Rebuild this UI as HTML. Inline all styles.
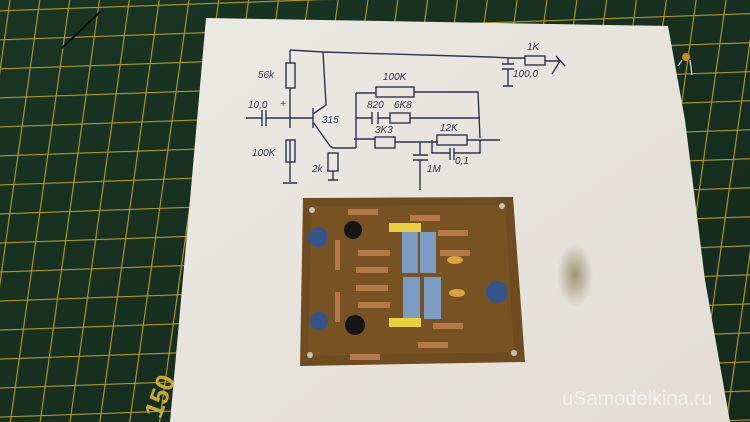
<!DOCTYPE html>
<html><head><meta charset="utf-8"><style>
html,body{margin:0;padding:0;width:750px;height:422px;overflow:hidden;background:#17301f}
svg{display:block}
</style></head><body>
<svg width="750" height="422" viewBox="0 0 750 422" xmlns="http://www.w3.org/2000/svg">
<defs>
<linearGradient id="mat" x1="0" y1="0" x2="1" y2="1">
<stop offset="0" stop-color="#1a3524"/><stop offset="1" stop-color="#142a1c"/></linearGradient>
<linearGradient id="pap" x1="0" y1="0" x2="1" y2="1">
<stop offset="0" stop-color="#ebe9e3"/><stop offset="1" stop-color="#e2ded6"/></linearGradient>
<pattern id="grid" width="30" height="29" patternUnits="userSpaceOnUse" patternTransform="translate(8,10) rotate(-2) skewX(-10)">
<path d="M0 0.5H30M0.5 0V29" stroke="#b49a2c" stroke-width="1.3" fill="none"/>
</pattern>
<radialGradient id="stain" cx="0.5" cy="0.5" r="0.5"><stop offset="0" stop-color="#8a7a55" stop-opacity="0.75"/><stop offset="1" stop-color="#8a7a55" stop-opacity="0"/></radialGradient>
</defs>
<rect width="750" height="422" fill="url(#mat)"/>
<rect width="750" height="422" fill="url(#grid)"/>
<path d="M62 48 L100 12" stroke="#0a0a0a" stroke-width="2"/>
<polygon points="206,18 668,26 685,120 705,280 730,422 170,422 190,200" fill="url(#pap)"/>
<ellipse cx="575" cy="275" rx="18" ry="32" fill="url(#stain)"/>
<circle cx="686" cy="57" r="4" fill="#d08a20"/>
<path d="M682 60 L678 66 M690 60 L692 75" stroke="#ddd" stroke-width="1.2"/>
<g stroke="#2e3350" stroke-width="1.4" fill="none">
<path d="M290 50 L323 52 L490 57 L510 58"/>
<path d="M290 50 V63 M290 88 V128 M290 140 V162 M290 162 V182 M283 183 H297"/>
<rect x="286" y="63" width="9" height="25"/>
<rect x="286" y="140" width="9" height="22"/>
<path d="M246 118 H262 M262 110 V126 M266 110 V126 M266 118 H313"/>
<path d="M313 108 V128 M313 114 L326 105 L323 52 M313 122 L330 146 L333 148 H356"/>
<rect x="328" y="153" width="10" height="18"/>
<path d="M333 171 V180 M328 180 H338"/>
<path d="M356 93 V148 M356 93 H376 M414 92 H478 L480 138 M356 118 H372 M372 112 V124 M378 112 V124 M378 118 H390 M410 118 H480 M354 139 H375 M395 142 H438 M467 140 H500"/>
<rect x="376" y="87" width="38" height="10"/>
<rect x="390" y="113" width="20" height="10"/>
<rect x="375" y="137" width="20" height="11"/>
<rect x="437" y="135" width="30" height="10"/>
<path d="M420 142 V155 M413 155 H428 M413 160 H428 M420 160 V190 M432 140 V153 H450 M450 148 V160 M454 148 V160 M454 153 H480 V140"/>
<path d="M508 58 V64 M502 64 H514 M502 69 H514 M508 69 V86 M503 86 H513 M510 58 H525 M545 61 H560 L552 74 M556 56 L565 66"/>
<rect x="525" y="56" width="20" height="9"/>
</g>
<g font-family="Liberation Sans, sans-serif" font-size="10" fill="#2e3350" font-style="italic">
<text x="258" y="78">56k</text><text x="248" y="108">10,0</text><text x="280" y="107">+</text>
<text x="252" y="156">100K</text><text x="322" y="123">315</text><text x="312" y="172">2k</text>
<text x="383" y="80">100K</text><text x="367" y="108">820</text><text x="394" y="108">6K8</text>
<text x="375" y="133">3K3</text><text x="440" y="131">12K</text><text x="427" y="172">1M</text>
<text x="455" y="164">0,1</text><text x="527" y="50">1K</text><text x="513" y="77">100,0</text>
</g>
<polygon points="303,198 513,197 525,362 300,366" fill="#6e4c1f"/>
<polygon points="312,206 505,205 514,352 308,356" fill="#7d5926" opacity="0.6"/>
<g fill="#7d9cc4"><rect x="402" y="232" width="16" height="41"/><rect x="420" y="232" width="16" height="41"/><rect x="403" y="277" width="17" height="42"/><rect x="424" y="277" width="17" height="42"/></g>
<g fill="#151515"><circle cx="353" cy="230" r="9"/><circle cx="355" cy="325" r="10"/></g>
<g fill="#35558a"><circle cx="318" cy="237" r="10"/><circle cx="319" cy="321" r="9"/><circle cx="497" cy="292" r="11"/></g>
<g fill="#e8d040"><rect x="389" y="223" width="32" height="9"/><rect x="389" y="318" width="32" height="9"/></g>
<g fill="#b57848"><rect x="348" y="209" width="30" height="6"/><rect x="410" y="215" width="30" height="6"/><rect x="358" y="250" width="32" height="6"/><rect x="356" y="267" width="32" height="6"/><rect x="356" y="285" width="32" height="6"/><rect x="358" y="302" width="32" height="6"/><rect x="438" y="230" width="30" height="6"/><rect x="440" y="250" width="30" height="6"/><rect x="433" y="323" width="30" height="6"/><rect x="418" y="342" width="30" height="6"/><rect x="350" y="354" width="30" height="6"/><rect x="335" y="240" width="5" height="30"/><rect x="335" y="292" width="5" height="30"/></g>
<g fill="#d8a440"><ellipse cx="455" cy="260" rx="8" ry="4"/><ellipse cx="457" cy="293" rx="8" ry="4"/></g>
<g fill="#c8c0b0"><circle cx="312" cy="210" r="3"/><circle cx="502" cy="206" r="3"/><circle cx="310" cy="355" r="3"/><circle cx="514" cy="353" r="3"/></g>
<text x="562" y="405" font-family="Liberation Sans, sans-serif" font-size="20" fill="#f4f4f4" opacity="0.85">uSamodelkina.ru</text>
<text x="140" y="420" font-family="Liberation Sans, sans-serif" font-size="26" font-weight="bold" fill="#c8a834" transform="rotate(-70 150 405)">150</text>
</svg>
</body></html>
